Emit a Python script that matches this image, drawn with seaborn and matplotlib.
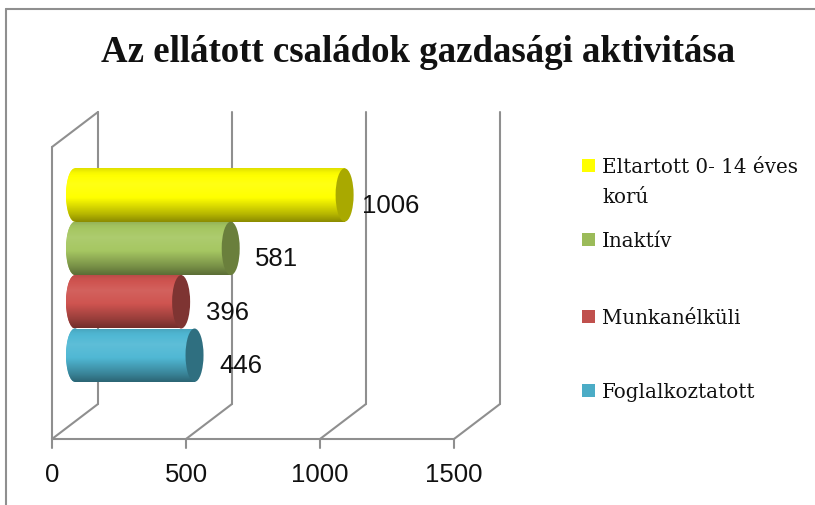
import numpy as np
import pandas as pd
import matplotlib
matplotlib.use("Agg")
import matplotlib.pyplot as plt
import seaborn as sns
from matplotlib.patches import Ellipse, Rectangle

# chart data
categories = ["Eltartott 0- 14 éves korú", "Inaktív", "Munkanélküli", "Foglalkoztatott"]
values = [1006, 581, 396, 446]
legend_labels = ["Eltartott 0- 14 éves\nkorú", "Inaktív", "Munkanélküli", "Foglalkoztatott"]
body_colors = ["#FFFF00", "#A6C762", "#CF5450", "#50B8D4"]
cap_colors = ["#A9A900", "#6A7F3C", "#7E3432", "#2F6F80"]
legend_colors = ["#FFFF00", "#9BBB59", "#C0504D", "#4BACC6"]
xticks = [0, 500, 1000, 1500]
title = "Az ellátott családok gazdasági aktivitása"

sns.set_theme(style="white")
plt.rcParams["font.family"] = ["Liberation Serif", "DejaVu Serif"]

W, H = 815, 506
fig = plt.figure(figsize=(W / 100, H / 100), dpi=100)
ax = fig.add_axes([0, 0, 1, 1])

# geometry (pixels)
S = 0.268          # px per value unit
X0 = 75            # value 0 at mid depth
ROW0, STEP = 196, 53.4
DX, DY = 23, 17.5  # half depth offset
CAP_W = 18 / S     # ellipse width in data units
GRID = "#8f8f8f"
NUM_FONT = ["Liberation Sans", "DejaVu Sans"]

def d(px, py):
    return (px - X0) / S, (py - ROW0) / STEP

df = pd.DataFrame({"cat": categories, "val": values})
sns.barplot(data=df, x="val", y="cat", hue="cat", palette=body_colors,
            width=1.0, orient="h", legend=False, ax=ax, linewidth=0)

# perspective grid
back_top, back_bot = 113, 405
front_top, front_bot = back_top + 2 * DY, back_bot + 2 * DY
for t in xticks:
    xb = X0 + DX + t * S
    xf = X0 - DX + t * S
    ax.plot(*zip(d(xb, back_top), d(xb, back_bot)), color=GRID, lw=1.5, zorder=1)
    ax.plot(*zip(d(xf, front_bot), d(xb, back_bot)), color=GRID, lw=1.5, zorder=1)
    ax.plot(*zip(d(xf, front_bot), d(xf, front_bot + 9)), color=GRID, lw=1.5, zorder=1)
    tx, ty = d(xf, 475)
    ax.text(tx, ty, f"{t}", ha="center", va="center", fontsize=18.5,
            family=NUM_FONT, color="#111111")
xf0, xf1 = X0 - DX, X0 - DX + xticks[-1] * S
ax.plot(*zip(d(xf0, front_bot), d(xf1, front_bot)), color=GRID, lw=1.5, zorder=1)
ax.plot(*zip(d(xf0, front_top), d(xf0, front_bot)), color=GRID, lw=1.5, zorder=1)
ax.plot(*zip(d(xf0, front_top), d(X0 + DX, back_top)), color=GRID, lw=1.5, zorder=1)

def shade(hexc, n=80):
    c = np.array(matplotlib.colors.to_rgb(hexc))
    t = np.linspace(0, 1, n)
    f = np.interp(t, [0, 0.08, 0.3, 0.55, 0.85, 1.0], [0.88, 0.97, 1.08, 1.0, 0.72, 0.55])
    rows = []
    for k in f:
        if k > 1:
            rows.append(c + (1 - c) * (k - 1))
        else:
            rows.append(c * k)
    return np.clip(np.array(rows), 0, 1).reshape(n, 1, 3)

bars = sorted(ax.patches, key=lambda p: p.get_y())
for i, p in enumerate(bars):
    v = p.get_width()
    yc = p.get_y() + p.get_height() / 2
    img = shade(body_colors[i])
    p.set_zorder(3)
    left = Ellipse((0, yc), CAP_W, 1.0, facecolor=body_colors[i], lw=0, zorder=3)
    ax.add_patch(left)
    for clip in (left, p):
        im = ax.imshow(img, extent=(-CAP_W, v, yc + 0.5, yc - 0.5), origin="upper",
                       aspect="auto", interpolation="bilinear", zorder=4)
        im.set_clip_path(clip)
    ax.add_patch(Ellipse((v, yc), CAP_W, 1.0, facecolor=cap_colors[i], lw=0, zorder=5))
    ax.annotate(f"{values[i]}", xy=(v, yc), xytext=(46, -10), textcoords="offset pixels",
                ha="center", va="center", fontsize=18.5,
                family=NUM_FONT, color="#111111", zorder=6)

ax.set_xlim(d(0, 0)[0], d(W, 0)[0])
ax.set_ylim(d(0, H)[1], d(0, 0)[1])
ax.axis("off")

# frame
fig.add_artist(plt.Line2D([6 / W, 1], [1 - 10 / H] * 2, color=GRID, lw=1.5))
fig.add_artist(plt.Line2D([6 / W] * 2, [0, 1 - 10 / H], color=GRID, lw=1.5))

# title
fig.text(418 / W, 1 - 52 / H, title, ha="center", va="center",
         fontsize=26.6, fontweight="bold", color="#111111")

# legend
base_y = [173, 247, 324, 398]
for lab, col, by in zip(legend_labels, legend_colors, base_y):
    fig.add_artist(Rectangle((582 / W, 1 - by / H), 13 / W, 13 / H,
                             transform=fig.transFigure, facecolor=col, lw=0))
    lines = lab.split("\n")
    for j, ln in enumerate(lines):
        fig.text(602 / W, 1 - (by + 30 * j) / H, ln, ha="left", va="baseline",
                 fontsize=14.3, family=["DejaVu Serif"], color="#111111")

fig.savefig("out.png", dpi=100)
